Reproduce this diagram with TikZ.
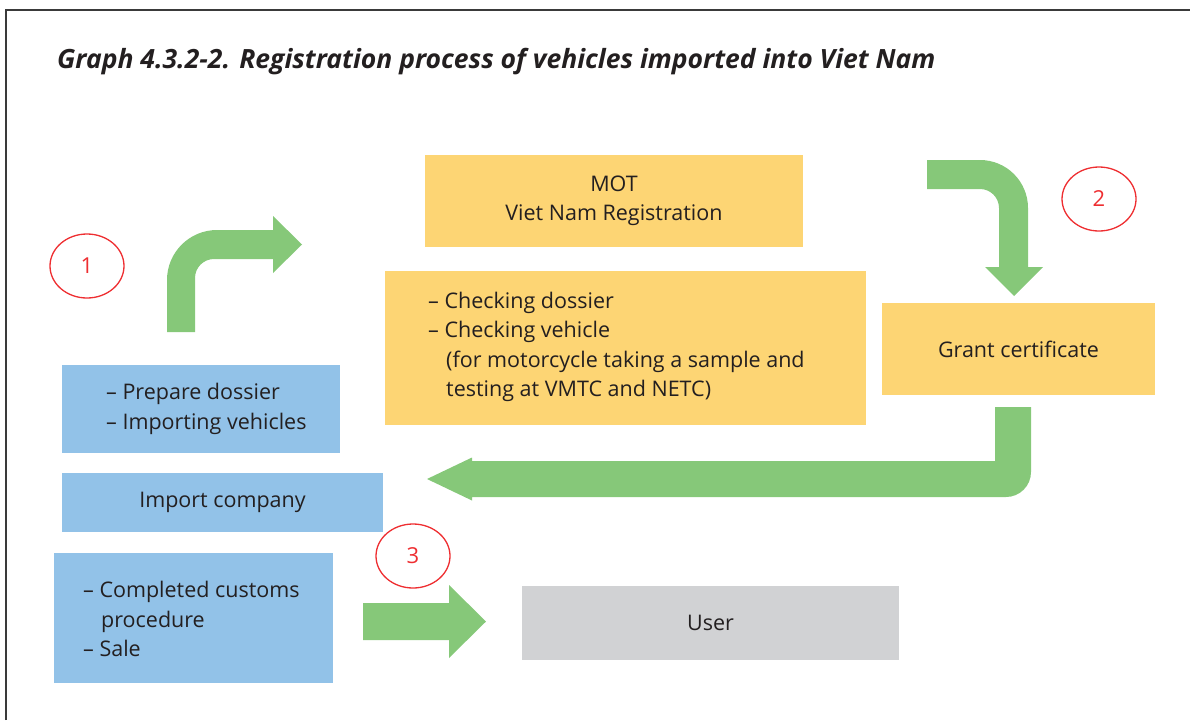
\documentclass[tikz,border=0pt]{standalone}
\usepackage{fontspec}
\setmainfont{Open Sans}
\usetikzlibrary{shapes.geometric}
\definecolor{ink}{HTML}{231F20}
\definecolor{boxyellow}{HTML}{FDD574}
\definecolor{boxblue}{HTML}{92C2E8}
\definecolor{boxgray}{HTML}{D1D2D4}
\definecolor{arrowgreen}{HTML}{86C879}
\definecolor{numred}{HTML}{EE2E31}
\definecolor{frame}{HTML}{3A3A3A}
\begin{document}
\begin{tikzpicture}[x=1pt,y=-1pt,
  txt/.style={inner sep=0pt, text=ink, font=\fontsize{21.5}{29.5}\selectfont},
  box/.style={rectangle, inner sep=0pt, draw=none, text=ink, font=\fontsize{21.5}{29}\selectfont},
  ybox/.style={box, fill=boxyellow},
  bbox/.style={box, fill=boxblue},
  gbox/.style={box, fill=boxgray},
  num/.style={ellipse, draw=numred, line width=1.3pt, text=numred, minimum width=74pt,
    minimum height=64pt, inner sep=0pt, font=\fontsize{22}{26}\selectfont},
  blockarrow/.style={fill=arrowgreen, draw=none}]
\useasboundingbox (0,0) rectangle (1190,720);

% frame
\draw[frame, line width=1.4pt] (6,720) -- (6,10) -- (1190,10);

% title
\node[anchor=base west, inner sep=0pt, text=ink,
  font=\fontsize{26.5}{30}\selectfont\bfseries\itshape] (title) at (57,68)
  {Graph 4.3.2-2. Registration process of vehicles imported into Viet Nam};

% yellow boxes
\node[ybox, minimum width=378pt, minimum height=92pt, align=center] (mot) at (614,201)
  {MOT\\Viet Nam Registration};
\node[ybox, minimum width=481pt, minimum height=154pt] (check) at (625.5,348) {};
\node[txt, anchor=west, align=left] (checktext) at (428,347)
  {-- Checking dossier\\-- Checking vehicle\\\hspace*{18pt}(for motorcycle taking a sample and\\\hspace*{18pt}testing at VMTC and NETC)};
\node[ybox, minimum width=273pt, minimum height=92pt] (grant) at (1018.5,349)
  {Grant certificate};

% blue boxes
\node[bbox, minimum width=278pt, minimum height=88pt] (prep) at (201,409) {};
\node[txt, anchor=west, align=left] (preptext) at (106,409)
  {-- Prepare dossier\\-- Importing vehicles};
\node[bbox, minimum width=321pt, minimum height=59pt] (company) at (222.5,502.5)
  {Import company};
\node[bbox, minimum width=279pt, minimum height=130pt] (customs) at (193.5,618) {};
\node[txt, anchor=west, align=left] (customstext) at (83,619)
  {-- Completed customs\\\hspace*{18pt}procedure\\-- Sale};

% grey box
\node[gbox, minimum width=377pt, minimum height=74pt] (user) at (710.5,623) {User};

% step numbers
\node[num] (n1) at (87,266) {1};
\node[num] (n2) at (1099,199) {2};
\node[num] (n3) at (413,556) {3};

% block arrows
\fill[blockarrow] (167,332) -- (167,280) arc[start angle=180, end angle=90, radius=50pt]
  -- (273,230) -- (273,216) -- (302,244.5) -- (273,273) -- (273,259) -- (214,259)
  arc[start angle=90, end angle=180, radius=19pt] -- (195,332) -- cycle;

\fill[blockarrow] (927,160) -- (980,160) arc[start angle=90, end angle=0, radius=48pt]
  -- (1028,267) -- (1043,267) -- (1014,296) -- (985,267) -- (999,267) -- (999,208)
  arc[start angle=0, end angle=90, radius=19pt] -- (927,189) -- cycle;

\fill[blockarrow] (995,407) -- (1031,407) -- (1031,472)
  arc[start angle=0, end angle=-90, radius=25pt] -- (472,497) -- (472,500.5)
  -- (427,479) -- (472,457.5) -- (472,461) -- (995,461) -- cycle;

\fill[blockarrow] (363,603) -- (449,603) -- (449,585) -- (486,621.5) -- (449,658)
  -- (449,640) -- (363,640) -- cycle;
\end{tikzpicture}
\end{document}
